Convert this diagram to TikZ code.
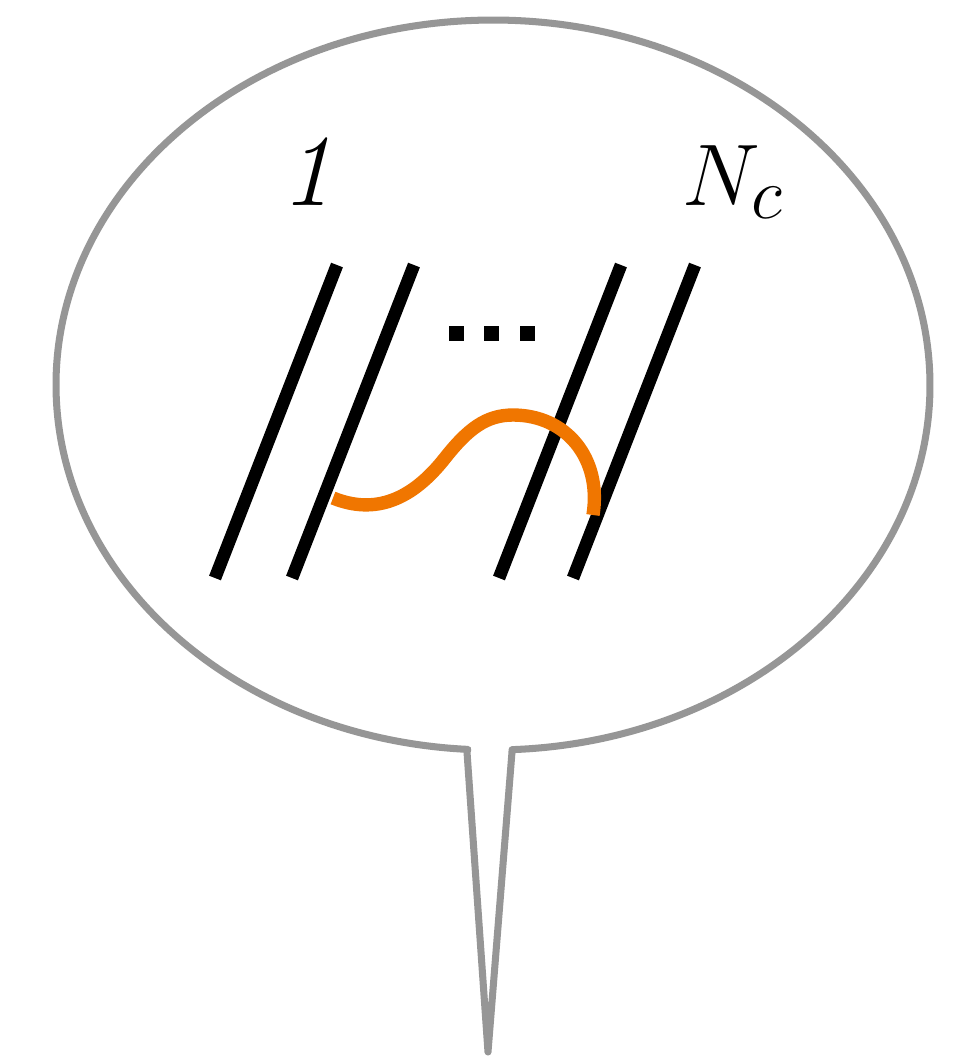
\documentclass[tikz,border=0pt]{standalone}
\usepackage{tikz}

\definecolor{bubbleGray}{RGB}{150,150,150}
\definecolor{gluonOrange}{RGB}{240,118,0}

\begin{document}
\begin{tikzpicture}[
    x=0.01cm, y=-0.01cm,
    bubbleOutlineStyle/.style={bubbleGray, line width=2pt, fill=white, line join=round},
    strandStyle/.style={black, line width=3.6pt},
    gluonStyle/.style={gluonOrange, line width=3.8pt},
    dotStyle/.style={black},
    colourLabelStyle/.style={font=\fontsize{29}{32}\selectfont, inner sep=0pt, anchor=base}
]
    \useasboundingbox (0,0) rectangle (969,1059);

    % --- speech bubble ---
    \draw[bubbleOutlineStyle] (493,385) ++(87.5:437 and 365)
        arc[start angle=87.5, end angle=-266.7, x radius=437, y radius=365]
        -- (467,752) -- (488,1052) -- (512,752) -- cycle;

    % --- colour strands ---
    \foreach \xb in {215,292,499,573}
        \draw[strandStyle] (\xb,578) -- ++(122,-313);

    % dots between strands
    \foreach \xd in {449,484,520}
        \fill[dotStyle] (\xd,326) rectangle ++(15,15);

    % --- labels ---
    \node[colourLabelStyle] (firstLabel) at (307,205) {\textit{1}};
    \node[colourLabelStyle] (lastLabel) at (733,205) {$N_c$};

    % --- gluon exchange ---
    \draw[gluonStyle] (333,498) .. controls (375,515) and (412,500) .. (445,458)
        .. controls (468,429) and (486,415) .. (513,415)
        .. controls (566,415) and (602,458) .. (593,515);
\end{tikzpicture}
\end{document}
